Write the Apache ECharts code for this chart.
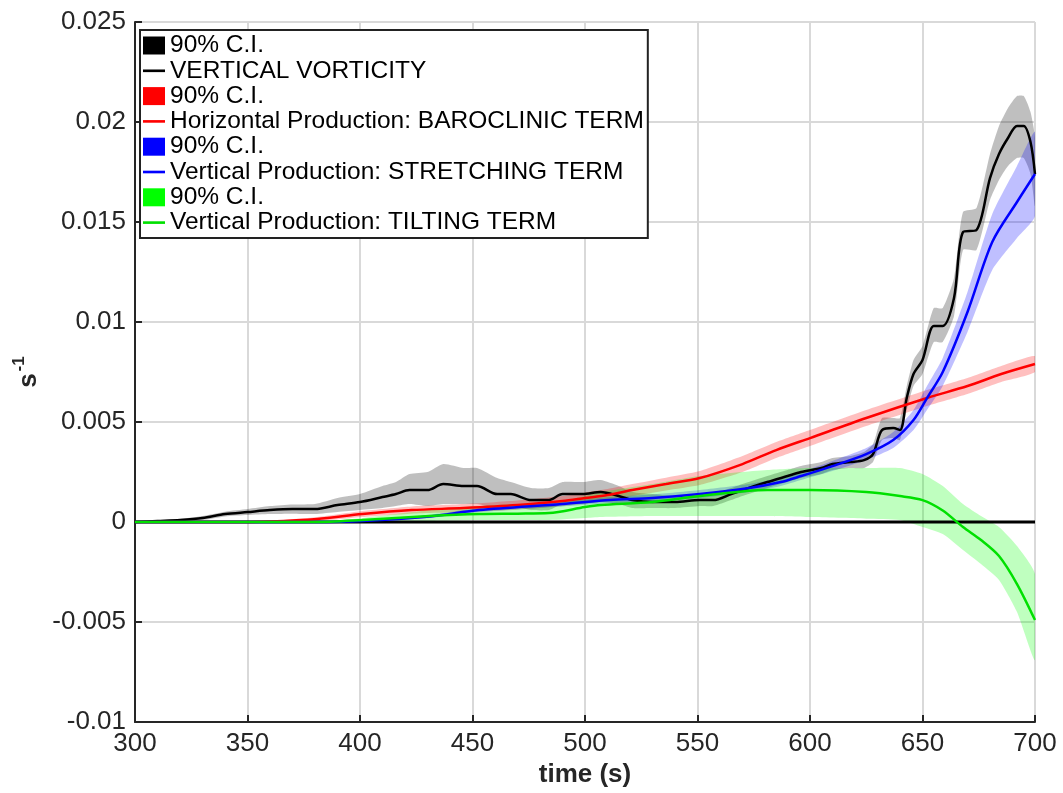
<!DOCTYPE html>
<html>
<head>
<meta charset="utf-8">
<script src="https://cdn.jsdelivr.net/npm/echarts@6/dist/echarts.min.js"></script>
<style>
html,body{margin:0;padding:0;background:#fff;}
#chart{width:1063px;height:793px;}
</style>
</head>
<body>
<div id="chart"></div>
<script>
// ---------- DATA ----------
const xTickLabels = ['300','350','400','450','500','550','600','650','700'];
const yTickLabels = ['-0.01','-0.005','0','0.005','0.01','0.015','0.02','0.025'];

// VERTICAL VORTICITY (black) and its 90% C.I.
const vortTime  = [300,310,320,330,340,350,360,370,380,390,400,410,416,422,430,437,446,452,461,467,476,484,490,499,507,515,521,530,540,551,557,565,570,581,590,596,605,610,618,624,628,632,637,640,643,646,650,655,659,664,668,674,680,684,688,692,695,698,700];
const vortValue = [0,0.00005,0.0001,0.0002,0.0004,0.0005,0.0006,0.00065,0.00065,0.00085,0.001,0.00125,0.0014,0.0016,0.0016,0.0019,0.0018,0.0018,0.0014,0.0014,0.0011,0.0011,0.0014,0.0014,0.0015,0.0013,0.0011,0.001,0.001,0.0011,0.0011,0.0014,0.0016,0.002,0.0023,0.0025,0.0027,0.0029,0.003,0.0031,0.0034,0.0046,0.0047,0.0046,0.0062,0.0074,0.0081,0.0098,0.0098,0.0112,0.0145,0.0146,0.0172,0.0184,0.0192,0.0198,0.0198,0.019,0.0174];
const vortLower = [0,0.00003,0.00005,0.0001,0.00028,0.00035,0.0004,0.00042,0.0004,0.0005,0.0006,0.0007,0.0008,0.0009,0.0008,0.0009,0.0009,0.0009,0.0007,0.0008,0.0006,0.0006,0.0009,0.0009,0.001,0.0009,0.0007,0.0007,0.0007,0.0008,0.0008,0.0011,0.0013,0.0017,0.002,0.0022,0.0024,0.0026,0.0027,0.0027,0.003,0.0041,0.0042,0.0041,0.0056,0.0068,0.0074,0.009,0.009,0.0103,0.0136,0.0136,0.0161,0.0171,0.0178,0.0182,0.0182,0.0174,0.0158];
const vortUpper = [0,0.00007,0.00015,0.0003,0.00052,0.00065,0.0008,0.00088,0.0009,0.0012,0.0014,0.0018,0.002,0.0024,0.0025,0.0029,0.0027,0.0027,0.0022,0.002,0.0017,0.0017,0.002,0.002,0.0021,0.0018,0.0015,0.0014,0.0013,0.0014,0.0014,0.0017,0.0019,0.0023,0.0026,0.0028,0.003,0.0032,0.0033,0.0035,0.0039,0.0052,0.0052,0.0052,0.0068,0.0081,0.0088,0.0107,0.0107,0.0122,0.0155,0.0157,0.0184,0.0198,0.0207,0.0213,0.0213,0.0205,0.0192];

// Horizontal Production: BAROCLINIC TERM (red)
const baroTime  = [300,340,360,381,401,423,446,470,490,500,510,521,536,551,570,585,600,625,652,670,685,700];
const baroValue = [0,0,0.00003,0.00015,0.0004,0.0006,0.0007,0.00085,0.00105,0.0012,0.00135,0.0016,0.0019,0.0022,0.0029,0.0036,0.0042,0.0052,0.0062,0.0068,0.0074,0.0079];
const baroLower = [0,0,0,0.00005,0.00025,0.00042,0.0005,0.00062,0.0008,0.00093,0.00105,0.0013,0.00158,0.00185,0.0025,0.0032,0.0038,0.0048,0.0058,0.0064,0.007,0.0075];
const baroUpper = [0,0.00002,0.00006,0.00025,0.00055,0.00078,0.0009,0.00108,0.0013,0.00147,0.00165,0.0019,0.00222,0.00255,0.0033,0.004,0.0046,0.0056,0.0066,0.0072,0.0078,0.0083];

// Vertical Production: STRETCHING TERM (blue)
const strTime  = [300,380,401,431,453,490,511,530,551,573,587,596,610,625,637,646,652,659,670,681,692,700];
const strValue = [0,0,0.00005,0.00028,0.0006,0.0009,0.0011,0.0012,0.0014,0.0017,0.002,0.0023,0.0028,0.0034,0.0041,0.0051,0.0062,0.0075,0.0105,0.014,0.016,0.0174];
const strLower = [0,0,0.00002,0.0002,0.0005,0.00078,0.00095,0.00102,0.0012,0.0015,0.0018,0.0021,0.00255,0.0031,0.0037,0.0046,0.0056,0.0068,0.0095,0.0126,0.0142,0.0153];
const strUpper = [0,0,0.00008,0.00036,0.0007,0.00102,0.00125,0.00138,0.0016,0.0019,0.0022,0.0025,0.00305,0.0037,0.0045,0.0056,0.0068,0.0082,0.0115,0.0154,0.0178,0.0195];

// Vertical Production: TILTING TERM (green)
const tiltTime  = [300,380,401,431,453,470,484,500,507,530,551,581,600,625,640,650,659,668,676,684,692,700];
const tiltValue = [0,0,0.0001,0.0003,0.0004,0.00042,0.00045,0.00075,0.00085,0.001,0.0013,0.0016,0.0016,0.0015,0.0013,0.0011,0.00058,-0.00025,-0.0009,-0.0017,-0.0031,-0.0049];
const tiltLower = [0,0,0,0.00005,0.0001,0.0001,0.0001,0.0002,0.00025,0.0003,0.0003,0.0003,0.00025,0.00017,0.0001,-0.00025,-0.0006,-0.0014,-0.0021,-0.0029,-0.0045,-0.0069];
const tiltUpper = [0,0,0.0002,0.0006,0.0008,0.0009,0.0009,0.0013,0.0015,0.0019,0.0023,0.0026,0.0027,0.0027,0.0027,0.0024,0.0018,0.0009,0.0003,-0.00025,-0.0012,-0.0026];

const zeroTime  = [300,700];
const zeroValue = [0,0];

const legendNames = ['ciK','VERTICAL VORTICITY','ciR','Horizontal Production: BAROCLINIC TERM','ciB','Vertical Production: STRETCHING TERM','ciG','Vertical Production: TILTING TERM'];
const legendLabels = {ciK:'90% C.I.', ciR:'90% C.I.', ciB:'90% C.I.', ciG:'90% C.I.'};

// ---------- BUILD OPTIONS ----------
const FONT = 'Liberation Sans, Arial, Helvetica, sans-serif';
const pairs = (t, v) => t.map((x, i) => [x, v[i]]);
const SMOOTH = 0.3;

function bandSeries(id, t, lo, hi, fill, solid, smooth) {
  return {
    type:'custom', name:id, silent:true, clip:true,
    itemStyle:{color:solid},
    data: t.map((x, i) => [x, lo[i], hi[i]]),
    encode:{x:0, y:[1, 2]},
    renderItem: function (params, api) {
      if (params.dataIndex !== 0) return null;
      const top = [], bot = [];
      for (let i = 0; i < t.length; i++) {
        top.push(api.coord([t[i], hi[i]]));
        bot.push(api.coord([t[i], lo[i]]));
      }
      return {
        type:'polygon',
        shape:{points: top.concat(bot.reverse()), smooth: smooth},
        style:{fill: fill, stroke: null}
      };
    }
  };
}
function lineSeries(name, t, v, color, smooth) {
  return {type:'line', name, data: pairs(t, v), symbol:'none', smooth: smooth,
          lineStyle:{color, width:2.5}, itemStyle:{color}};
}

const series = [
  {type:'line', name:'zero', data: pairs(zeroTime, zeroValue), symbol:'none', silent:true,
   lineStyle:{color:'#000', width:3}, itemStyle:{color:'#000'}},
  bandSeries('ciK', vortTime, vortLower, vortUpper, 'rgba(0,0,0,0.25)', '#000', 0.2),
  lineSeries('VERTICAL VORTICITY', vortTime, vortValue, '#000', 0.3),
  bandSeries('ciR', baroTime, baroLower, baroUpper, 'rgba(255,0,0,0.25)', '#ff0000', 0.2),
  lineSeries('Horizontal Production: BAROCLINIC TERM', baroTime, baroValue, '#ff0000', SMOOTH),
  bandSeries('ciB', strTime, strLower, strUpper, 'rgba(0,0,255,0.25)', '#0000ff', 0.2),
  lineSeries('Vertical Production: STRETCHING TERM', strTime, strValue, '#0000ff', SMOOTH),
  bandSeries('ciG', tiltTime, tiltLower, tiltUpper, 'rgba(0,255,0,0.25)', '#00ff00', 0.2),
  lineSeries('Vertical Production: TILTING TERM', tiltTime, tiltValue, '#00e000', SMOOTH)
];

const lineIcon = 'path://M0,0 H20 V2.4 H0 Z';
const legendColors = ['#000','#000','#ff0000','#ff0000','#0000ff','#0000ff','#00ff00','#00e000'];
const legendData = legendNames.map((n, i) => ({
  name: n,
  icon: (i % 2 === 0) ? 'rect' : lineIcon,
  itemStyle: {color: legendColors[i]}
}));

const axisColor = '#262626';
const option = {
  animation: false,
  backgroundColor: '#fff',
  grid: {left:135, right:28, top:22, bottom:67, containLabel:false},
  legend: {
    data: legendData, orient:'vertical', left:140, top:30,
    padding:[3, 4, 3, 3], itemGap:0.3, itemWidth:22, itemHeight:18,
    borderColor:'#222', borderWidth:2, backgroundColor:'#fff',
    selectedMode:false, z:10,
    textStyle:{fontFamily:FONT, fontSize:24.5, lineHeight:24, color:'#000'},
    formatter: n => legendLabels[n] || n
  },
  xAxis: {
    type:'value', min:300, max:700, interval:50,
    name:'time (s)', nameLocation:'middle', nameGap:36,
    nameTextStyle:{fontFamily:FONT, fontSize:26, fontWeight:'bold', color:axisColor},
    axisLine:{show:true, onZero:false, lineStyle:{color:axisColor, width:2}},
    axisTick:{show:true, inside:true, length:7, lineStyle:{color:axisColor, width:2}},
    axisLabel:{fontFamily:FONT, fontSize:26, color:axisColor, margin:9,
               formatter: v => xTickLabels[Math.round((v - 300) / 50)]},
    splitLine:{show:true, lineStyle:{color:'#d9d9d9', width:2}}
  },
  yAxis: {
    type:'value', min:-0.01, max:0.025, interval:0.005,
    name:'{s|s}{p|-1}', nameLocation:'middle', nameGap:93, nameRotate:90,
    nameTextStyle:{rich:{
      s:{fontFamily:FONT, fontSize:26, fontWeight:'bold', color:axisColor, verticalAlign:'bottom'},
      p:{fontFamily:FONT, fontSize:17, fontWeight:'bold', color:axisColor, verticalAlign:'top', padding:[0,0,14,2]}
    }},
    axisLine:{show:true, onZero:false, lineStyle:{color:axisColor, width:2}},
    axisTick:{show:true, inside:true, length:7, lineStyle:{color:axisColor, width:2}},
    axisLabel:{fontFamily:FONT, fontSize:26, color:axisColor, margin:9,
               formatter: v => yTickLabels[Math.round((v + 0.01) / 0.005)]},
    splitLine:{show:true, lineStyle:{color:'#d9d9d9', width:2}}
  },
  series
};

const chart = echarts.init(document.getElementById('chart'), null, {renderer:'canvas'});
chart.setOption(option);
</script>
</body>
</html>
